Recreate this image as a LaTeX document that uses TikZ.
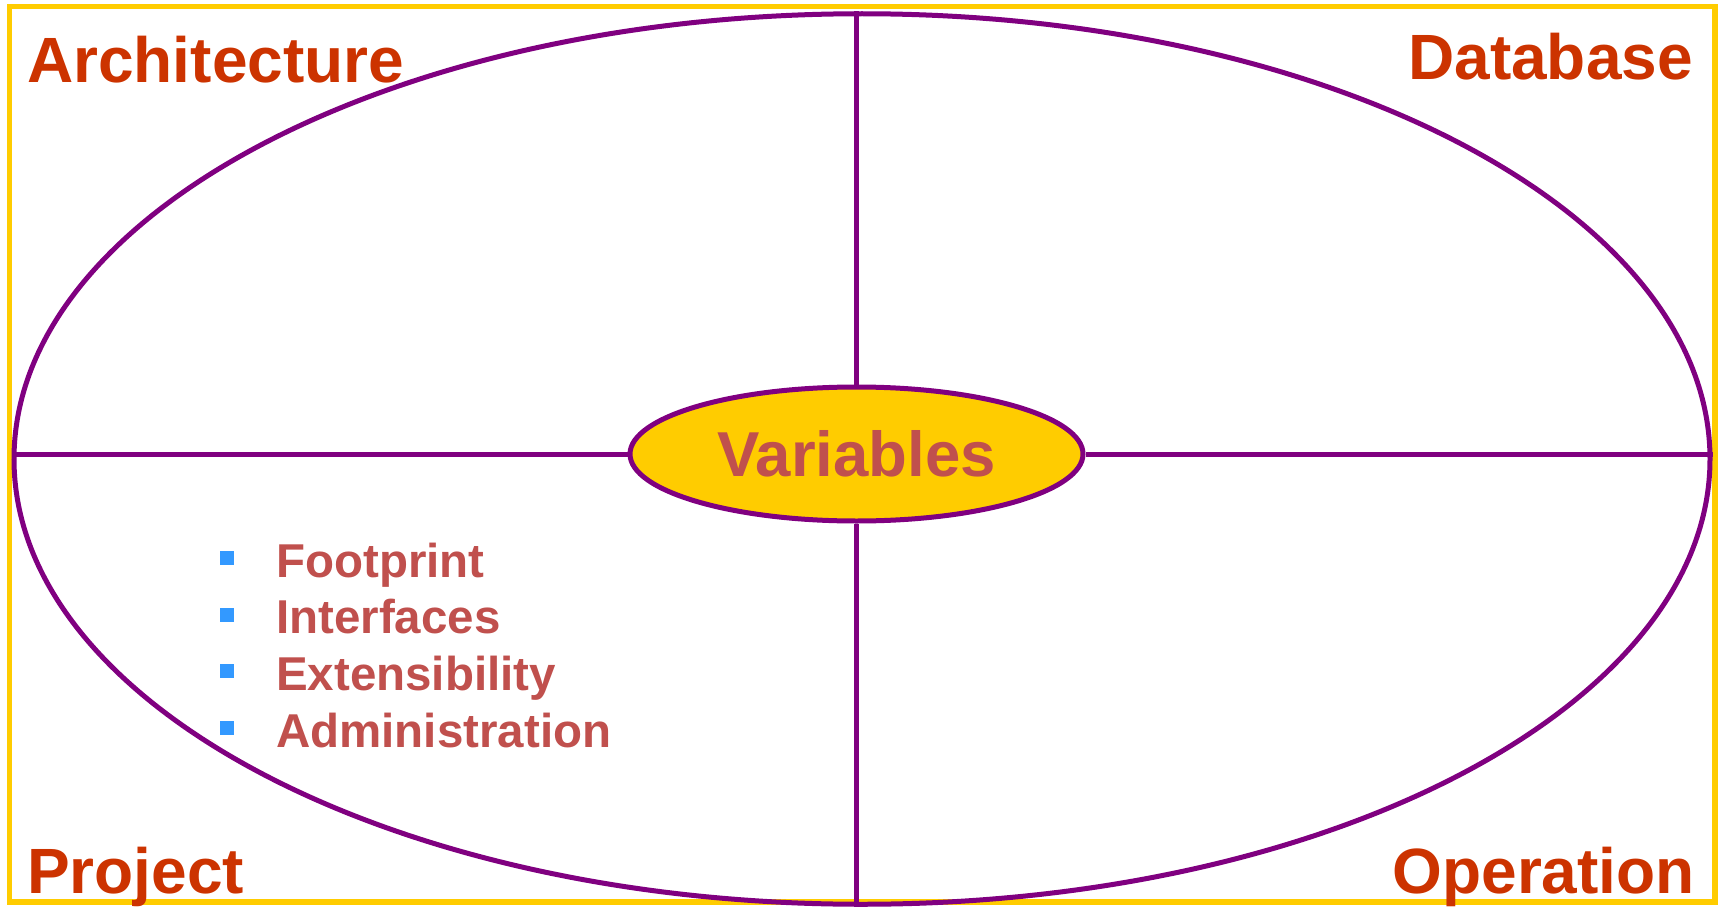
\documentclass[tikz,border=0pt]{standalone}
\usepackage{fontspec}
\setmainfont{Liberation Sans}
\usepackage{tikz}
\usetikzlibrary{
  shapes.geometric
}
\definecolor{FrameGold}{RGB}{255, 204, 0}
\definecolor{OvalPurple}{RGB}{128, 0, 128}
\definecolor{CornerRed}{RGB}{204, 51, 0}
\definecolor{ItemRed}{RGB}{192, 80, 77}
\definecolor{BulletBlue}{RGB}{51, 153, 255}
\tikzset{
    oval/.style={ellipse, draw=OvalPurple, line width=5pt, inner sep=0pt},
    divider/.style={draw=OvalPurple, line width=5pt},
    corner/.style={inner sep=0pt, text=CornerRed, font=\fontsize{64}{76}\selectfont\bfseries},
    itemlabel/.style={inner sep=0pt, text=ItemRed, font=\fontsize{47.5}{57}\selectfont\bfseries},
    bullet/.style={rectangle, fill=BulletBlue, minimum size=14pt, inner sep=0pt}
}

\begin{document}
\begin{tikzpicture}[x=1pt, y=-1pt]
    \useasboundingbox (0,0) rectangle (1719,907);
    \draw[draw=FrameGold, line width=5.5pt] (9.5,6.5) rectangle (1715,902);
    % outer board and centre oval
    \node[oval, minimum width=1696pt, minimum height=890.5pt] (board) at (862,459) {};
    \node[oval, fill=FrameGold, minimum width=453pt, minimum height=134pt, text=ItemRed,
          font=\fontsize{63.5}{76}\selectfont\bfseries] (var) at (856.5,454) {Variables};
    \draw[divider] (var.north) -- (var.north |- board.north);
    \draw[divider] (var.south) -- (var.south |- board.south);
    \draw[divider] (var.west) -- (var.west -| board.west);
    \draw[divider] (var.east) -- (var.east -| board.east);
    % quadrant names
    \node[corner, anchor=base west] (arch) at (27,82) {Architecture};
    \node[corner, anchor=base east] (db) at (1693,80) {Database};
    \node[corner, anchor=base west] (proj) at (27,893) {Project};
    \node[corner, anchor=base east] (oper) at (1695,893) {Operation};
    % variables list
    \foreach \name [count=\i] in {Footprint, Interfaces, Extensibility, Administration} {
        \node[itemlabel, anchor=base west] (item\i) at (276, 520.3+56.7*\i) {\name};
        \node[bullet] (dot\i) at (227, 501.3+56.7*\i) {};
    }
\end{tikzpicture}
\end{document}
